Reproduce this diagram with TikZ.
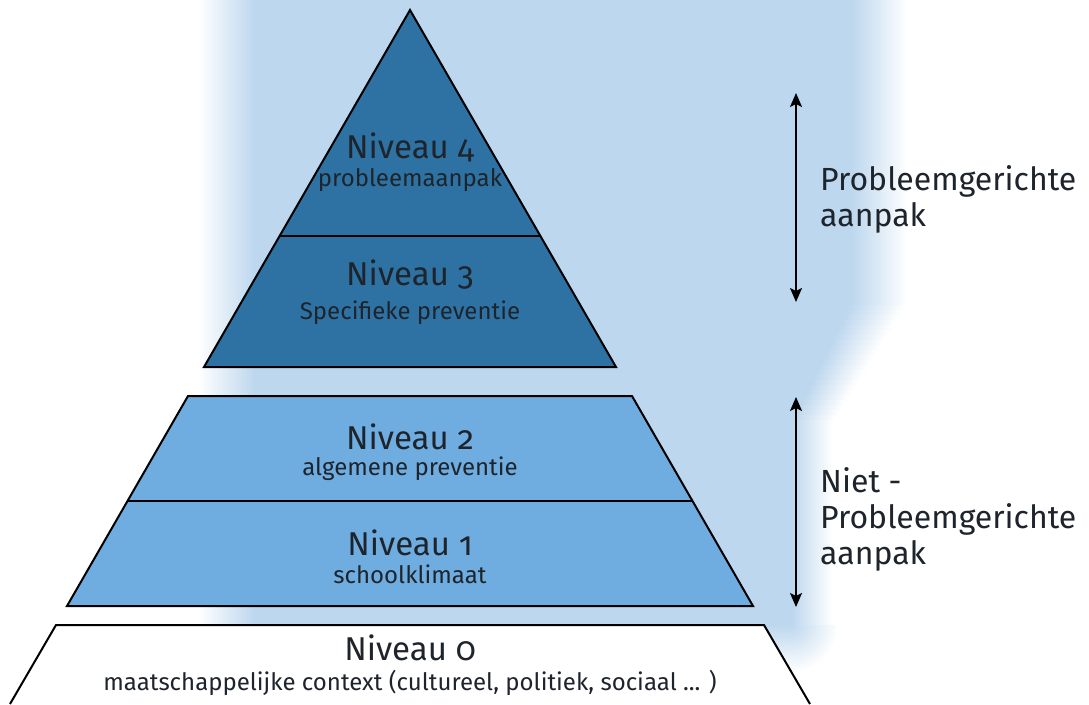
\documentclass[tikz,border=0pt]{standalone}
\usepackage{fontspec}
\setmainfont[Numbers=OldStyle]{Fira Sans}
\usetikzlibrary{arrows.meta}
\definecolor{bgblue}{RGB}{189,215,238}
\definecolor{darkblue}{RGB}{46,114,164}
\definecolor{midblue}{RGB}{111,173,224}
\definecolor{txt}{RGB}{30,36,44}
\tikzset{
  layer/.style={draw=black,line width=2pt,line join=miter},
  big/.style={text=txt,font=\fontsize{33}{36}\selectfont,inner sep=0pt},
  small/.style={text=txt,font=\fontsize{24}{28}\selectfont,inner sep=0pt},
  side/.style={text=txt,font=\fontsize{32}{36}\selectfont,inner sep=0pt,align=left,anchor=west},
  span/.style={line width=2pt,{Stealth[length=14pt,width=12pt,inset=3pt]}-{Stealth[length=14pt,width=12pt,inset=3pt]}}
}
\begin{document}
\begin{tikzpicture}[x=1pt,y=-1pt]
\useasboundingbox (0,0) rectangle (1089,704);
\fill[white] (0,0) rectangle (1089,704);
% background glow
\foreach \y in {0,5,...,620} {
  \pgfmathsetmacro\e{852-0.5*min(max(\y-300,0),120)}
  \pgfmathsetmacro\w{55-0.125*min(max(\y-300,0),120)}
  \fill[bgblue] (250,\y) rectangle (\e,\y+6);
  \shade[left color=bgblue,right color=white] (\e-0.5,\y) rectangle (\e+\w,\y+6);
}
\shade[left color=white,right color=bgblue] (198,0) rectangle (255,626);
\shade[top color=bgblue,bottom color=white] (198,625) rectangle (792,672);
\begin{scope}
  \clip (791.5,625) rectangle (840,672);
  \shade[inner color=bgblue,outer color=white] (744,578) rectangle (838,672);
\end{scope}
% level 0
\fill[white] (56,625) -- (764,625) -- (810,704) -- (10,704) -- cycle;
\draw[layer] (10,704) -- (56,625) -- (764,625) -- (810,704);
% levels 1-2
\draw[layer,fill=midblue] (188,396) -- (632,396) -- (753,606) -- (67,606) -- cycle;
\draw[layer] (128,501) -- (692,501);
% levels 3-4
\draw[layer,fill=darkblue] (410,10) -- (616,367) -- (204,367) -- cycle;
\draw[layer] (280,236) -- (540,236);
% texts
\node[big] (n4) at (410,147) {Niveau 4};
\node[small] (s4) at (410,180) {probleemaanpak};
\node[big] (n3) at (410,275) {Niveau 3};
\node[small] (s3) at (410,313) {Specifieke preventie};
\node[big] (n2) at (410,437) {Niveau 2};
\node[small] (s2) at (410,469) {algemene preventie};
\node[big] (n1) at (410,543) {Niveau 1};
\node[small] (s1) at (410,574) {schoolklimaat};
\node[big] (n0) at (410,648) {Niveau 0};
\node[small] (s0) at (410,683) {maatschappelijke context (cultureel, politiek, sociaal ... )};
% side labels
\node[side] (pa) at (820,199) {Probleemgerichte\\aanpak};
\node[side] (npa) at (820,519) {Niet -\\Probleemgerichte\\aanpak};
% arrows
\coordinate (a1t) at (796,93);
\coordinate (a1b) at (796,302);
\coordinate (a2t) at (796,397);
\coordinate (a2b) at (796,607);
\draw[span] (a1t) -- (a1b);
\draw[span] (a2t) -- (a2b);
\end{tikzpicture}
\end{document}
